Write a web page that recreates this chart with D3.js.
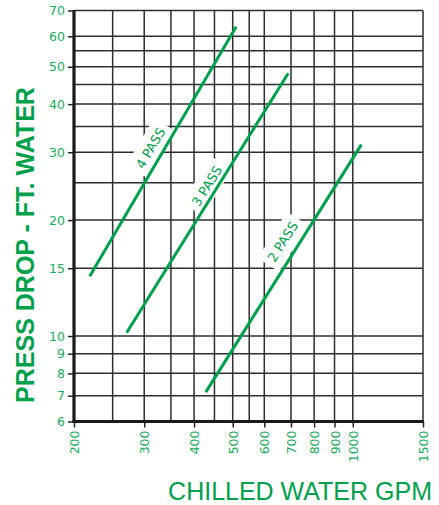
<!DOCTYPE html>
<html>
<head>
<meta charset="utf-8">
<script src="https://cdn.jsdelivr.net/npm/d3@7"></script>
<style>
  html, body { margin: 0; padding: 0; background: #fff; }
  svg { display: block; }
</style>
</head>
<body>
<svg id="chart" width="439" height="505"></svg>
<script>
// Chiller pressure drop vs. chilled water flow, one straight log-log line per pass count
const passNames = ["4 PASS", "3 PASS", "2 PASS"];
const gpmEnds   = [[219, 510], [271, 689], [428, 1051]];
const dropEnds  = [[14.3, 63.5], [10.2, 48.1], [7.15, 31.4]];
const labelGpm  = [331, 451, 718];

const xTickValues = [200, 300, 400, 500, 600, 700, 800, 900, 1000, 1500];
const xExtraGrid  = [250, 350, 450, 550];
const yTickValues = [6, 7, 8, 9, 10, 15, 20, 30, 40, 50, 60, 70];
const yExtraGrid  = [25, 35, 45, 55];

const GREEN = "#00a14b";
const LABEL_GREEN = "#15ad5a";
const GRID = "#2e2e2e";

const svg = d3.select("#chart");

const x = d3.scaleLog().domain([200, 1500]).range([74, 423]);
const y = d3.scaleLog().domain([6, 70]).range([421.5, 10.5]);

const [x0, x1] = x.range();
const [y0, y1] = y.range();

// grid
const grid = svg.append("g").attr("stroke", GRID).attr("stroke-width", 1.5);
grid.selectAll("line.v")
  .data(xTickValues.concat(xExtraGrid))
  .join("line")
  .attr("class", "v")
  .attr("x1", d => x(d)).attr("x2", d => x(d))
  .attr("y1", y1).attr("y2", y0);
grid.selectAll("line.h")
  .data(yTickValues.concat(yExtraGrid))
  .join("line")
  .attr("class", "h")
  .attr("x1", x0).attr("x2", x1)
  .attr("y1", d => y(d)).attr("y2", d => y(d));

// axes
const fmt = d3.format("d");
const yAxis = svg.append("g")
  .attr("transform", `translate(${x0},0)`)
  .call(d3.axisLeft(y).tickValues(yTickValues).tickFormat(fmt).tickSize(6).tickPadding(3));
const xAxis = svg.append("g")
  .attr("transform", `translate(0,${y0})`)
  .call(d3.axisBottom(x).tickValues(xTickValues).tickFormat(fmt).tickSize(6));

[yAxis, xAxis].forEach(g => {
  g.select(".domain").remove();
  g.selectAll(".tick line").attr("stroke", "#222").attr("stroke-width", 1.5);
  g.selectAll(".tick text")
    .attr("fill", LABEL_GREEN)
    .style("font-family", "'DejaVu Sans', sans-serif")
    .style("font-size", "12.5px");
});
xAxis.selectAll(".tick text")
  .attr("transform", "rotate(-90)")
  .attr("text-anchor", "end")
  .attr("x", -9)
  .attr("y", 0)
  .attr("dy", "0.36em");

// heavy left and bottom axis lines
svg.append("line")
  .attr("x1", x0).attr("x2", x0).attr("y1", y1 - 0.5).attr("y2", y0 + 1.5)
  .attr("stroke", "#1a1a1a").attr("stroke-width", 3.2);
svg.append("line")
  .attr("x1", x0 - 1.5).attr("x2", x1 + 0.75).attr("y1", y0).attr("y2", y0)
  .attr("stroke", "#1a1a1a").attr("stroke-width", 3.2);

// series
const series = passNames.map((name, i) => ({
  name,
  pts: gpmEnds[i].map((g, j) => [g, dropEnds[i][j]]),
  labelGpm: labelGpm[i]
}));

const line = d3.line().x(d => x(d[0])).y(d => y(d[1]));

// drop value on a straight log-log segment at a given flow
function dropAt(s, g) {
  const [[ga, da], [gb, db]] = s.pts;
  const t = (Math.log(g) - Math.log(ga)) / (Math.log(gb) - Math.log(ga));
  return Math.exp(Math.log(da) + t * (Math.log(db) - Math.log(da)));
}

const labelGap = [12.5, 9.5, 15];

const labels = svg.append("g");
const lines = svg.append("g");
const labelText = svg.append("g");

series.forEach((s, i) => {
  lines.append("path")
    .attr("d", line(s.pts))
    .attr("fill", "none")
    .attr("stroke", GREEN)
    .attr("stroke-width", 3);

  const [[ga, da], [gb, db]] = s.pts;
  const ang = Math.atan2(y(db) - y(da), x(gb) - x(ga));
  const px = x(s.labelGpm), py = y(dropAt(s, s.labelGpm));
  const cx = px + Math.sin(ang) * labelGap[i];
  const cy = py - Math.cos(ang) * labelGap[i];
  const deg = ang * 180 / Math.PI;

  const t = labelText.append("text")
    .attr("transform", `translate(${cx},${cy}) rotate(${deg})`)
    .attr("text-anchor", "middle")
    .attr("dy", "0.36em")
    .attr("fill", GREEN)
    .style("font-family", "'DejaVu Sans', sans-serif")
    .style("font-size", "13px")
    .text(s.name);
  const bb = t.node().getBBox();
  labels.append("rect")
    .attr("transform", `translate(${cx},${cy}) rotate(${deg})`)
    .attr("x", bb.x - 5).attr("y", bb.y - 5)
    .attr("width", bb.width + 10).attr("height", bb.height + 10)
    .attr("fill", "#fff");
});

// axis titles
svg.append("text")
  .attr("transform", "translate(33.5,245) rotate(-90)")
  .attr("text-anchor", "middle")
  .attr("fill", GREEN)
  .style("font-family", "'Liberation Sans', Arial, sans-serif")
  .style("font-weight", "bold")
  .style("font-size", "25px")
  .text("PRESS DROP - FT. WATER");

svg.append("text")
  .attr("x", 432).attr("y", 500)
  .attr("text-anchor", "end")
  .attr("fill", GREEN)
  .style("font-family", "'Liberation Sans', Arial, sans-serif")
  .style("font-size", "25px")
  .text("CHILLED WATER GPM");
</script>
</body>
</html>
